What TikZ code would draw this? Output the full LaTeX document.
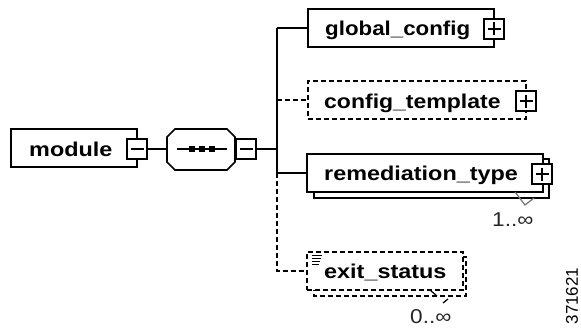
\documentclass[tikz,border=0pt]{standalone}
\usepackage{graphicx}
\usepackage{fontspec}
\setmainfont{Liberation Sans}
\tikzset{
  solidline/.style={line width=1.6pt,black},
  dashline/.style={line width=1.6pt,black,dash pattern=on 5pt off 3pt},
  elbox/.style={solidline,draw,fill=white,inner sep=0pt},
  dashbox/.style={elbox,dash pattern=on 5pt off 3pt},
  tog/.style={solidline,draw,fill=white,minimum width=20pt,minimum height=20pt,inner sep=0pt},
  togbar/.style={line width=1.3pt,black},
  eltext/.style={inner sep=0pt,anchor=base west,font=\fontsize{20}{20}\bfseries\selectfont},
  occ/.style={inner sep=0pt,anchor=base west,font=\fontsize{20}{20}\selectfont,text=black!85}
}
\newcommand{\wide}[2]{\scalebox{#1}[1]{#2}}
\begin{document}
\begin{tikzpicture}[x=1pt,y=-1pt]
\useasboundingbox (0,0) rectangle (581,329);
% shadows
\draw[solidline] (543,159) -- (549,159) -- (549,198) -- (314,198) -- (314,192);
\draw[dashline] (462,257) -- (466,257) -- (466,296) -- (314,296) -- (314,290);
% main boxes
\node[elbox,minimum width=126pt,minimum height=38pt] (module) at (74,148) {};
\node[elbox,minimum width=186pt,minimum height=38pt] (global) at (401,28) {};
\node[dashbox,minimum width=218pt,minimum height=38pt] (template) at (417,100) {};
\node[elbox,minimum width=236pt,minimum height=38pt] (remed) at (425,173) {};
\node[dashbox,minimum width=156pt,minimum height=38pt] (exit) at (385,271) {};
% sequence compositor
\coordinate (seqW) at (167,149);
\draw[solidline] (175,129) -- (227,129) -- (235,137) -- (235,162) -- (227,170) -- (175,170) -- (167,162) -- (167,137) -- cycle;
\draw[line width=1.3pt] (177,149) -- (227,149);
\foreach \x in {192,202,212} \fill (\x-2.7,146.3) rectangle (\x+2.7,151.7);
% toggles
\node[tog] (mtog) at (137,149) {};
\node[tog] (stog) at (246,149) {};
\node[tog] (gtog) at (494,29) {};
\node[tog] (ttog) at (526,101) {};
\node[tog] (rtog) at (542,174) {};
\draw[togbar] (mtog.center) ++(-6.5,0) -- ++(13,0);
\draw[togbar] (stog.center) ++(-6.5,0) -- ++(13,0);
\foreach \n in {gtog,ttog,rtog}{
  \draw[togbar] (\n.center) ++(-6.5,0) -- ++(13,0);
  \draw[togbar] (\n.center) ++(0,-6.5) -- ++(0,13);
}
% connectors
\coordinate (trunkM) at (277,149);
\coordinate (trunkT) at (277,28);
\coordinate (trunkC) at (277,100);
\coordinate (trunkR) at (277,173);
\coordinate (trunkE) at (277,271);
\draw[solidline] (mtog.east) -- (seqW);
\draw[solidline] (stog.east) -- (trunkM);
\draw[solidline] (trunkT) -- (global.west);
\draw[solidline] (trunkT) -- (trunkR) -- (remed.west);
\draw[dashline] (trunkC) -- (template.west);
\draw[dashline] (trunkR) -- (trunkE) -- (exit.west);
% occurrence ticks
\draw[line width=1.2pt,black!55] (515,192) -- (525,205) -- (534,198);
\draw[line width=1.2pt] (430,290) -- (437,296);
\draw[line width=1.2pt] (443,303) -- (448,299);
% documentation icon
\fill[white] (310,253) rectangle (323,266);
\foreach \y/\w in {255/10,258/9,261/8,264/7} \draw[line width=1pt] (312,\y) -- ++(\w,0);
% texts
\node[eltext] (tm) at (29,156) {\wide{1.17}{module}};
\node[eltext] (tg) at (325,36) {\wide{1.115}{global\_config}};
\node[eltext] (tc) at (324,108) {\wide{1.15}{config\_template}};
\node[eltext] (tr) at (324,180) {\wide{1.17}{remediation\_type}};
\node[eltext] (te) at (324,278) {\wide{1.17}{exit\_status}};
\node[occ] (o1) at (492,226) {\wide{1.13}{1..∞}};
\node[occ] (o0) at (410,323) {\wide{1.13}{0..∞}};
\node[inner sep=0pt,rotate=90,font=\fontsize{17}{17}\selectfont] (id) at (572,296) {371621};
\end{tikzpicture}
\end{document}
